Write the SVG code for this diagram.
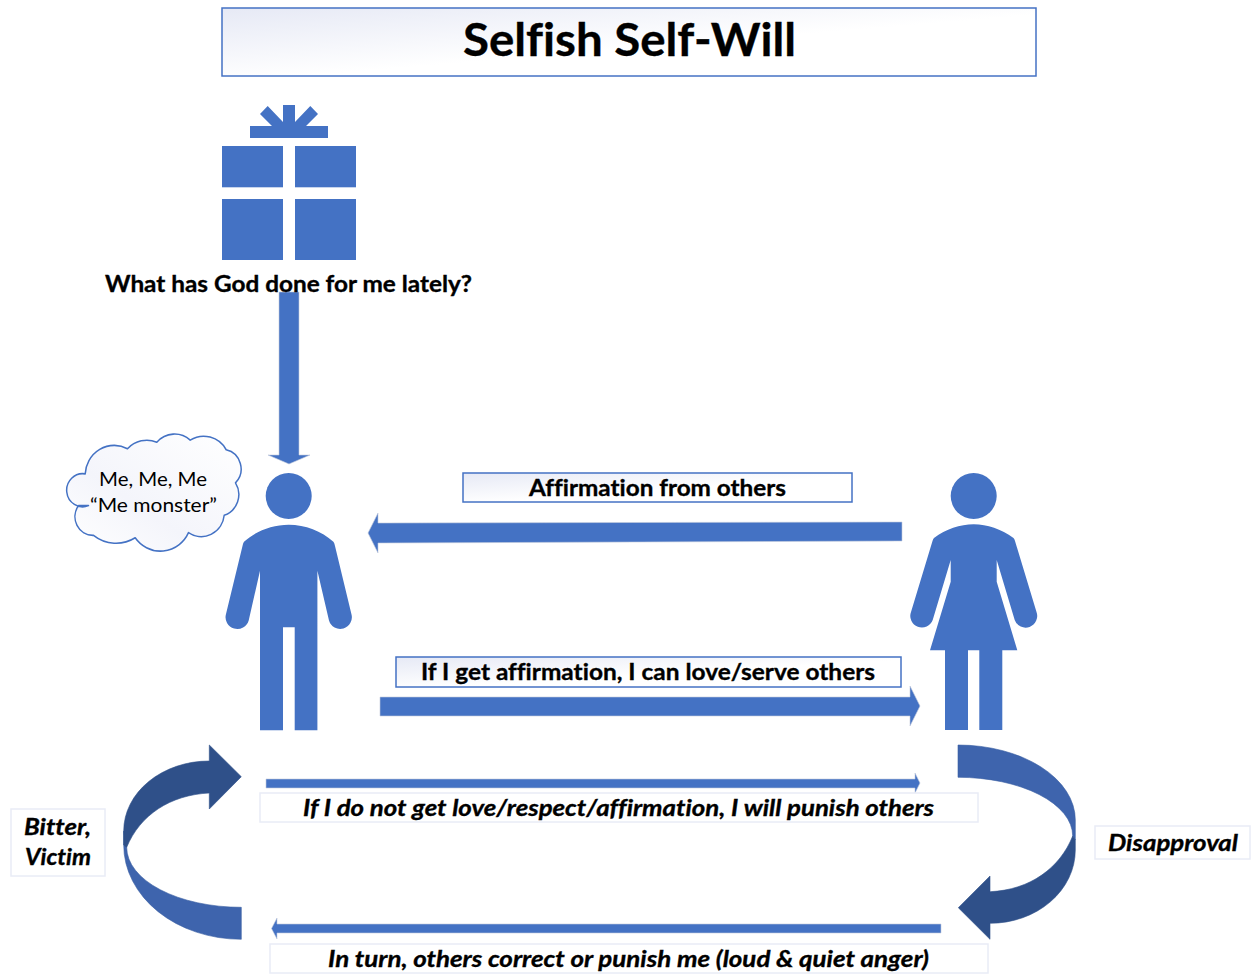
<svg xmlns="http://www.w3.org/2000/svg" width="1252" height="974" viewBox="0 0 1252 974">
<defs>
<linearGradient id="boxFill" x1="0" y1="0" x2="1" y2="1"><stop offset="0" stop-color="#e6e9f5"/><stop offset="0.55" stop-color="#ffffff"/></linearGradient>
<linearGradient id="cloudFill" x1="0" y1="1" x2="1" y2="0"><stop offset="0" stop-color="#ffffff"/><stop offset="0.4" stop-color="#f4f5fb"/><stop offset="1" stop-color="#ffffff"/></linearGradient>
</defs>
<style>
.blue{fill:#4472c4}
.box{fill:url(#boxFill);stroke:#4472c4;stroke-width:1.5}
.pale{fill:#ffffff;stroke:#e9ecf6;stroke-width:1.5}
.arrow{fill:#4472c4;stroke:#c3cbdc;stroke-width:.6}
.light{fill:#3e64ad;stroke:#3a5fa3;stroke-width:.6}
.dark{fill:#2f5089;stroke:#2f5089;stroke-width:.6}
text{font-family:"Lato","Carlito","Liberation Sans",sans-serif;fill:#000;font-variant-ligatures:none}
.b{font-weight:700;stroke:#000;stroke-width:.35}
.i{font-weight:700;font-style:italic;stroke:#000;stroke-width:.35}
</style>
<g id="connectors">
<path class="arrow" d="M279 292H299V455H310L289 464L268 455H279Z"/>
<path class="arrow" d="M902 522V541L378 543V553L368 533L378 513V523Z"/>
<path class="arrow" d="M380 697H910V686L920 706L910 726V716H380Z"/>
<path class="arrow" d="M266 779H915V773L920 783L915 793V788H266Z"/>
<path class="arrow" d="M941 924V933H277V939L271.500 928.500L277 918V924Z"/>
<path class="light" d="M126.700 847.300A114.600 60 0 0 0 241.300 907.300V939.300A117.600 94.300 0 0 1 123.700 845V831Z"/>
<path class="dark" d="M241.300 776.700L209.300 745V761A85.600 70 0 0 0 123.700 831V845L126.700 847.300C140 815 170 795 209.300 793V809Z"/>
<path class="light" d="M958 745A117.300 75 0 0 1 1075.300 820V840L1072.700 836A114.700 58.700 0 0 0 958 777.300Z"/>
<path class="dark" d="M958.300 907.700L990 876V891.700C1030 890 1060 868 1072.700 836L1075.300 840V850A85.300 73.300 0 0 1 990 923.300V939.300Z"/>
</g>
<g id="title"><rect class="box" x="222" y="8" width="814" height="68"/><text class="b" x="463" y="56" font-size="46" textLength="333" lengthAdjust="spacingAndGlyphs">Selfish Self-Will</text></g>
<g id="gift">
<path class="blue" d="M250 126H272L260 114L267.700 106L283 122V105H295V122L310.300 106L318 114L306 126H328V138H250Z"/>
<rect class="blue" x="222" y="146" width="61" height="41.300"/><rect class="blue" x="295" y="146" width="61" height="41.300"/>
<rect class="blue" x="222" y="199" width="61" height="61"/><rect class="blue" x="295" y="199" width="61" height="61"/>
<text class="b" x="105" y="292" font-size="23.500" textLength="367" lengthAdjust="spacingAndGlyphs">What has God done for me lately?</text>
</g>
<g id="cloud">
<path transform="translate(3.500 -16) scale(1 1.035)" d="M85 504A16 16 0 1 1 81.700 473.300A29 29 0 0 1 124 449A27 27 0 0 1 153.300 442.700A24 24 0 0 1 186.700 440.700A26 26 0 0 1 222.700 450A19 19 0 0 1 232 482A21 21 0 0 1 220.700 513.300A23 23 0 0 1 185 530A31 31 0 0 1 131.700 535A37 37 0 0 1 90 532.700A18 18 0 0 1 75 504Z" fill="url(#cloudFill)" stroke="#4472c4" stroke-width="1.500" stroke-linejoin="round"/>
<text x="99" y="486" font-size="20" textLength="108" lengthAdjust="spacingAndGlyphs">Me, Me, Me</text>
<text x="90" y="512" font-size="20" textLength="127" lengthAdjust="spacingAndGlyphs">“Me monster”</text>
</g>
<g id="man">
<circle class="blue" cx="288.700" cy="496" r="23"/>
<path class="blue" d="M244 541.700C256 531 272 524.700 288.700 524.700S321.400 531 333.400 541.700Q334.500 543 335 546L351.400 614A11.500 11.500 0 0 1 329 620.500L317.400 570.700V730.300H294.700V627.300H283V730.300H260V570.700L248.700 620.500A11.500 11.500 0 0 1 226 614L242.500 546Q243 543 244 541.700Z"/>
</g>
<g id="woman">
<circle class="blue" cx="973.700" cy="496" r="23"/>
<path class="blue" d="M934 538C946 529 960 524.300 973.700 524.300S1001 529 1013.500 538Q1014.500 539 1015 541L1036.500 612A11.500 11.500 0 0 1 1014.700 620L996.700 560V581.700L1017.300 650.300H1002.300V730H979.300V650.300H968V730H945V650.300H930L950.700 581.700V560L932.700 620A11.500 11.500 0 0 1 911 612L932.500 541Q933 539 934 538Z"/>
</g>
<g id="affirmation"><rect class="box" x="463" y="473" width="389" height="29"/><text class="b" x="529" y="496" font-size="23.500" textLength="257" lengthAdjust="spacingAndGlyphs">Affirmation from others</text></g>
<g id="love-serve"><rect class="box" x="396" y="657" width="505" height="30"/><text class="b" x="421" y="680" font-size="23.500" textLength="454" lengthAdjust="spacingAndGlyphs">If I get affirmation, I can love/serve others</text></g>
<g id="punish"><rect class="pale" x="260" y="793" width="718" height="29"/><text class="i" x="303" y="816" font-size="23.500" textLength="631" lengthAdjust="spacingAndGlyphs">If I do not get love/respect/affirmation, I will punish others</text></g>
<g id="correct"><rect class="pale" x="270" y="944" width="718" height="29"/><text class="i" x="328" y="967" font-size="23.500" textLength="601" lengthAdjust="spacingAndGlyphs">In turn, others correct or punish me (loud &amp; quiet anger)</text></g>
<g id="bitter"><rect class="pale" x="11" y="809" width="94" height="67"/><text class="i" x="24" y="835" font-size="23.500" textLength="67" lengthAdjust="spacingAndGlyphs">Bitter,</text><text class="i" x="25" y="865" font-size="23.500" textLength="66" lengthAdjust="spacingAndGlyphs">Victim</text></g>
<g id="disapproval"><rect class="pale" x="1095" y="826" width="155" height="33"/><text class="i" x="1108" y="851" font-size="23.500" textLength="130" lengthAdjust="spacingAndGlyphs">Disapproval</text></g>
</svg>
